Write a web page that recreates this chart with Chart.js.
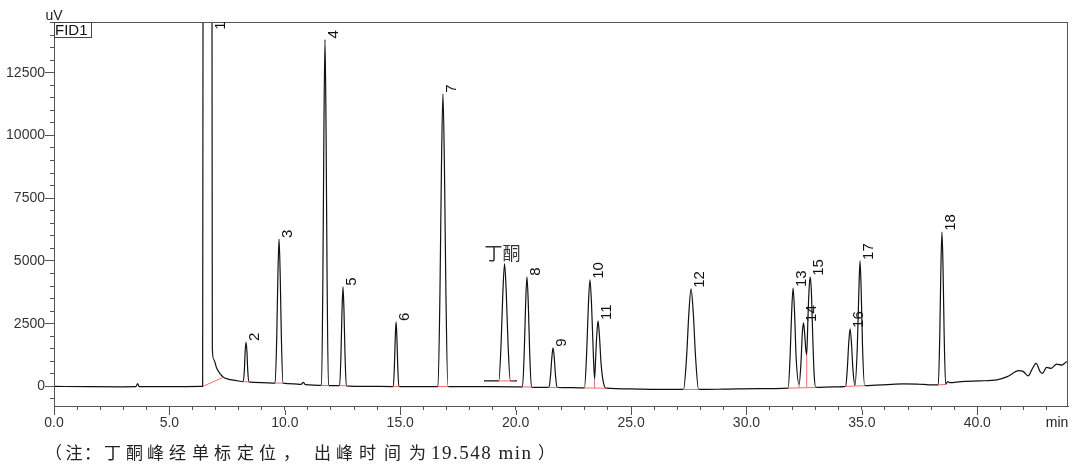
<!DOCTYPE html>
<html>
<head>
<meta charset="utf-8">
<script src="https://cdn.jsdelivr.net/npm/chart.js@4"></script>
<style>
  html, body { margin: 0; padding: 0; background: #fff; }
  canvas { display: block; }
</style>
</head>
<body>
<canvas id="chromChart" width="1080" height="468"></canvas>
<script>
// Peak labels (retention time in min, label anchor height in uV)
const peakNames = ['1', '2', '3', '4', '5', '6', '7', '8', '9', '10', '11', '12', '13', '14', '15', '16', '17', '18'];
const peakTimes = [6.85, 8.32, 9.75, 11.74, 12.52, 14.82, 16.85, 20.49, 21.62, 23.22, 23.57, 27.60, 32.02, 32.47, 32.76, 34.49, 34.92, 38.47];
const peakHeights = [14150, 1750, 5850, 13800, 3950, 2550, 11640, 4350, 1520, 4230, 2590, 3870, 3900, 2510, 4350, 2270, 4980, 6140];

const markerName = '丁酮';
const markerTime = 19.52;
const markerHeight = 4860;

// axis tick labels
const xTickLabels = [0, 5, 10, 15, 20, 25, 30, 35, 40];
const yTickLabels = [0, 2500, 5000, 7500, 10000, 12500];

// FID1 trace: [time min, signal uV]
const trace = [
    [0.00, -20], [1.50, -30], [3.00, -35], [3.55, -30], [3.62, 90], [3.70, -30], [5.00, -30], [6.40, -20],
    [6.44, -20], [6.47, 30000], [6.65, 60000], [6.83, 30000], [6.86, 1500], [6.92, 1050], [7.05, 700],
    [7.20, 480], [7.34, 350], [7.55, 270], [7.76, 230], [8.00, 195],
    [8.20, 170], [8.25, 680], [8.28, 1350], [8.32, 1750], [8.36, 1350], [8.39, 680], [8.44, 160],
    [9.00, 135],
    [9.58, 115], [9.65, 1950], [9.70, 4400], [9.75, 5850], [9.80, 4400], [9.85, 1950], [9.92, 110],
    [10.40, 85], [10.70, 60], [10.80, 140], [10.90, 50], [11.30, 30],
    [11.59, 20], [11.65, 4430], [11.695, 10350], [11.74, 13800], [11.785, 10350], [11.83, 4430], [11.89, 15],
    [12.375, 10], [12.433, 1270], [12.476, 2965], [12.52, 3950], [12.564, 2965], [12.607, 1270], [12.665, 5],
    [13.50, -15],
    [14.70, -25], [14.748, 800], [14.784, 1905], [14.82, 2550], [14.856, 1905], [14.892, 800], [14.94, -25],
    [16.00, -25],
    [16.635, -25], [16.721, 3710], [16.786, 8725], [16.85, 11640], [16.915, 8725], [16.979, 3710], [17.065, -25],
    [18.00, -30], [19.00, -30], [20.00, -35],
    [20.295, -40], [20.373, 1365], [20.432, 3255], [20.49, 4350], [20.549, 3255], [20.607, 1365], [20.685, -45],
    [21.445, -60], [21.515, 445], [21.568, 1125], [21.62, 1520], [21.673, 1125], [21.725, 445], [21.795, -60],
    [22.50, -70],
    [22.98, -80], [23.076, 1300], [23.148, 3150], [23.22, 4230], [23.292, 3150], [23.364, 1300], [23.42, 280],
    [23.47, 1200], [23.516, 2050], [23.57, 2590], [23.63, 2000], [23.70, 900], [23.78, 250], [23.90, -90],
    [25.00, -120], [26.00, -140],
    [27.275, -140], [27.405, 1145], [27.503, 2870], [27.60, 3870], [27.698, 2870], [27.795, 1145], [27.925, -140],
    [29.00, -130], [30.50, -110],
    [31.805, -90], [31.891, 1190], [31.956, 2900], [32.02, 3900], [32.085, 2900], [32.149, 1190], [32.28, 50],
    [32.36, 900], [32.42, 2100], [32.47, 2510], [32.52, 2100], [32.57, 1450], [32.61, 1240],
    [32.66, 2600], [32.71, 3800], [32.76, 4350], [32.81, 3800], [32.87, 2000], [32.93, 500], [33.00, -60],
    [33.80, -40],
    [34.30, -20], [34.37, 700], [34.43, 1700], [34.49, 2270], [34.55, 1700], [34.61, 700], [34.70, 20],
    [34.80, 1500], [34.87, 3800], [34.92, 4980], [34.97, 3800], [35.03, 1500], [35.12, 10],
    [35.60, 30], [36.30, 60], [36.80, 80], [37.40, 75], [37.90, 45],
    [38.31, 40], [38.374, 1990], [38.422, 4615], [38.47, 6140], [38.518, 4615], [38.566, 1990], [38.63, 60],
    [38.72, 170], [38.80, 130], [39.30, 170], [40.10, 200], [40.85, 240], [41.30, 370], [41.80, 610],
    [42.00, 570], [42.20, 400], [42.36, 640], [42.55, 900], [42.72, 570], [42.83, 500], [43.00, 740],
    [43.20, 700], [43.44, 870], [43.66, 830], [43.88, 960], [43.93, 950]
];

// butanone peak, pasted in on its own baseline
const markerTrace = [
    [18.63, 200], [19.27, 200], [19.37, 1690], [19.445, 3695], [19.52, 4860],
    [19.595, 3695], [19.67, 1690], [19.77, 200], [20.06, 200]
];

// integration baselines / drop lines: [t1, v1, t2, v2]
const baselines = [
    [6.45, -20, 7.34, 350], [8.19, 170, 8.46, 160], [9.57, 115, 9.94, 110],
    [11.57, 20, 11.92, 15], [12.36, 10, 12.69, 5], [14.68, -25, 14.97, -25],
    [16.61, -25, 17.09, -25], [19.24, 200, 19.97, 200], [20.27, -40, 20.71, -45],
    [21.42, -60, 21.82, -60], [22.96, -80, 23.95, -92], [23.42, -85, 23.42, 280],
    [27.25, -140, 27.95, -140], [31.78, -90, 33.03, -60], [32.28, -80, 32.28, 50],
    [32.61, -73, 32.61, 1240], [34.28, -20, 35.15, 10], [34.70, -5, 34.70, 20],
    [38.29, 40, 38.66, 60]
];

const sansFont = '"Liberation Sans", Arial, sans-serif';
const cjkFont = '"Noto Sans CJK SC"';

// footnote, drawn one glyph at a time to get the wide spacing of the original
const noteChars = ['（', '注', '：', '丁', '酮', '峰', '经', '单', '标', '定', '位', '，', '出', '峰', '时', '间', '为'];
const noteX = [45, 65.5, 84, 104, 126, 147, 169, 192, 214, 237, 259, 283, 314, 336, 359, 384, 409];

const baselinePoints = [];
baselines.forEach(s => {
    baselinePoints.push({ x: s[0], y: s[1] }, { x: s[2], y: s[3] }, { x: s[2], y: null });
});

const decor = {
    id: 'decor',
    afterDraw(chart) {
        const { ctx, chartArea: a } = chart;
        const x = chart.scales.x, y = chart.scales.y;
        ctx.save();

        // plot frame
        ctx.strokeStyle = '#555';
        ctx.lineWidth = 1;
        ctx.strokeRect(a.left + 0.5, a.top + 0.5, a.right - a.left - 1, a.bottom - a.top);

        // x major ticks longer than the minor ones
        ctx.beginPath();
        xTickLabels.forEach(t => {
            const px = Math.round(x.getPixelForValue(t)) + 0.5;
            ctx.moveTo(px, a.bottom + 4);
            ctx.lineTo(px, a.bottom + 9);
        });
        // y ticks: minor every 500, major at the labels
        for (let v = -500; v <= 14500; v += 500) {
            const py = Math.round(y.getPixelForValue(v)) + 0.5;
            const len = yTickLabels.includes(v) ? 9 : 4;
            ctx.moveTo(a.left - len, py);
            ctx.lineTo(a.left, py);
        }
        ctx.stroke();

        // y tick labels
        ctx.fillStyle = '#333';
        ctx.font = '14px ' + sansFont;
        ctx.textAlign = 'right';
        ctx.textBaseline = 'middle';
        yTickLabels.forEach(v => {
            ctx.fillText(String(v), a.left - 9, y.getPixelForValue(v) + 0.5);
        });

        // peak numbers, rotated
        ctx.fillStyle = '#111';
        ctx.font = '15px ' + sansFont;
        ctx.textAlign = 'left';
        ctx.textBaseline = 'top';
        peakNames.forEach((name, i) => {
            const px = x.getPixelForValue(peakTimes[i]);
            const py = y.getPixelForValue(peakHeights[i]);
            ctx.save();
            ctx.translate(px + 1, py - 1);
            ctx.rotate(-Math.PI / 2);
            ctx.fillText(name, 0, 0);
            ctx.restore();
        });

        // butanone label
        ctx.fillStyle = '#333';
        ctx.font = '18px ' + cjkFont;
        ctx.textAlign = 'center';
        ctx.textBaseline = 'alphabetic';
        ctx.fillText(markerName, x.getPixelForValue(markerTime) - 2, y.getPixelForValue(markerHeight) - 4);

        // FID1 box
        ctx.fillStyle = '#111';
        ctx.strokeStyle = '#444';
        ctx.strokeRect(a.left + 0.5, a.top + 0.5, 37, 15);
        ctx.font = '15px ' + sansFont;
        ctx.textAlign = 'left';
        ctx.textBaseline = 'middle';
        ctx.fillText('FID1', a.left + 1, a.top + 8.5);

        // axis units
        ctx.fillStyle = '#222';
        ctx.font = '14px ' + sansFont;
        ctx.textAlign = 'center';
        ctx.textBaseline = 'alphabetic';
        ctx.fillText('uV', a.left, 20);
        ctx.textBaseline = 'middle';
        ctx.fillText('min', 1057, 423);

        // footnote
        ctx.fillStyle = '#222';
        ctx.font = '17px ' + cjkFont;
        ctx.textAlign = 'left';
        ctx.textBaseline = 'middle';
        noteChars.forEach((c, i) => ctx.fillText(c, noteX[i], 453));
        ctx.font = '19px "Liberation Serif", serif';
        ctx.letterSpacing = '1.5px';
        ctx.fillText('19.548 min', 431, 454);
        ctx.letterSpacing = '0px';
        ctx.font = '17px ' + cjkFont;
        ctx.fillText('）', 538, 453);

        ctx.restore();
    }
};

const ctx = document.getElementById('chromChart').getContext('2d');
const chromChart = new Chart(ctx, {
    type: 'scatter',
    data: {
        datasets: [
            {
                data: baselinePoints,
                showLine: true,
                borderColor: '#f06a6a',
                borderWidth: 1,
                pointRadius: 0,
                spanGaps: false,
                order: 0
            },
            {
                data: markerTrace.map(p => ({ x: p[0], y: p[1] })),
                showLine: true,
                borderColor: '#111',
                borderWidth: 1.2,
                pointRadius: 0,
                cubicInterpolationMode: 'monotone',
                order: 1
            },
            {
                data: trace.map(p => ({ x: p[0], y: p[1] })),
                showLine: true,
                borderColor: '#111',
                borderWidth: 1.2,
                pointRadius: 0,
                cubicInterpolationMode: 'monotone',
                order: 2
            }
        ]
    },
    options: {
        responsive: false,
        animation: false,
        devicePixelRatio: 1,
        layout: { padding: { top: 22, right: 12, bottom: 0, left: 0 } },
        plugins: {
            legend: { display: false },
            tooltip: { enabled: false }
        },
        scales: {
            x: {
                type: 'linear',
                min: 0,
                max: 43.93,
                afterFit(scale) { scale.height = 62; },
                border: { color: '#555' },
                grid: { drawOnChartArea: false, tickLength: 4, color: '#555' },
                ticks: {
                    stepSize: 1,
                    autoSkip: false,
                    maxRotation: 0,
                    includeBounds: false,
                    padding: 5,
                    color: '#333',
                    font: { family: sansFont, size: 14 },
                    callback: v => (xTickLabels.includes(v) ? v.toFixed(1) : '')
                }
            },
            y: {
                type: 'linear',
                min: -800,
                max: 14500,
                afterFit(scale) { scale.width = 54; },
                border: { color: '#555' },
                grid: { display: false },
                ticks: { display: false }
            }
        }
    },
    plugins: [decor]
});
</script>
</body>
</html>
